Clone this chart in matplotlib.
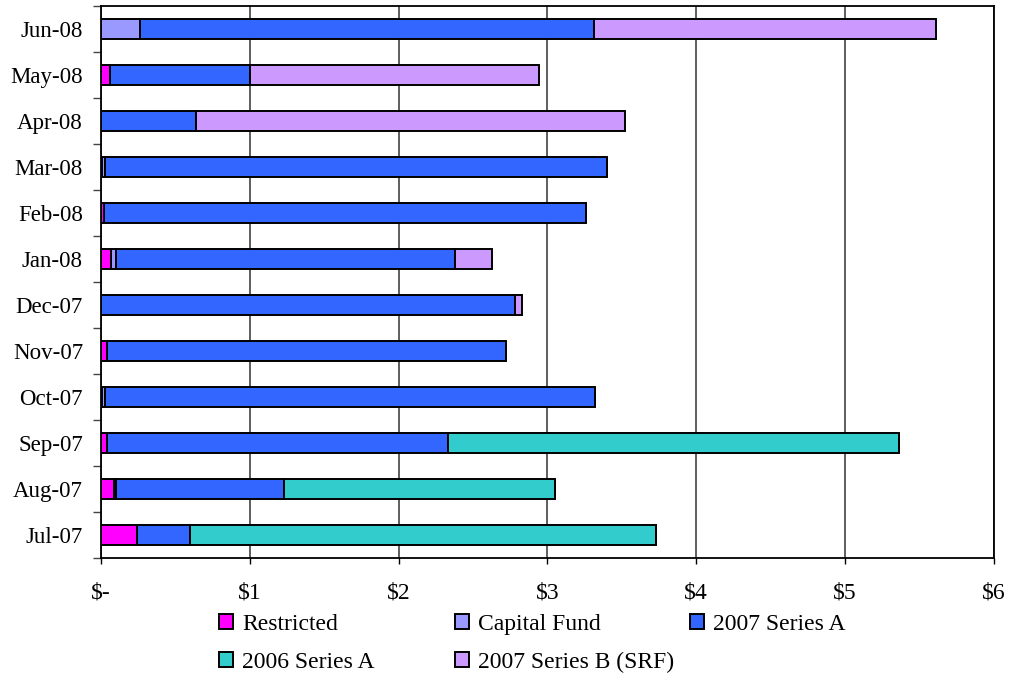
import numpy as np
import matplotlib
matplotlib.use("Agg")
import matplotlib.pyplot as plt

plt.rcParams["font.family"] = ["Liberation Serif", "DejaVu Serif"]
plt.rcParams["font.size"] = 16

# monthly cash balances by fund, $ millions (bottom row first)
months = ["Jul-07", "Aug-07", "Sep-07", "Oct-07", "Nov-07", "Dec-07",
          "Jan-08", "Feb-08", "Mar-08", "Apr-08", "May-08", "Jun-08"]
restricted = [0.24, 0.09, 0.04, 0.01, 0.04, 0.00, 0.07, 0.02, 0.01, 0.00, 0.06, 0.00]
capital_fund = [0.00, 0.01, 0.00, 0.02, 0.00, 0.00, 0.03, 0.00, 0.02, 0.00, 0.00, 0.26]
series_2007a = [0.36, 1.13, 2.29, 3.29, 2.68, 2.78, 2.28, 3.24, 3.37, 0.64, 0.94, 3.05]
series_2006a = [3.13, 1.82, 3.03, 0.00, 0.00, 0.00, 0.00, 0.00, 0.00, 0.00, 0.00, 0.00]
series_2007b = [0.00, 0.00, 0.00, 0.00, 0.00, 0.05, 0.25, 0.00, 0.00, 2.88, 1.94, 2.30]

series = [
    ("Restricted", restricted, "#FF00FF"),
    ("Capital Fund", capital_fund, "#9999FF"),
    ("2007 Series A", series_2007a, "#3366FF"),
    ("2006 Series A", series_2006a, "#33CCCC"),
    ("2007 Series B (SRF)", series_2007b, "#CC99FF"),
]
xticks = [0, 1, 2, 3, 4, 5, 6]
xlabels = ["$-", "$1", "$2", "$3", "$4", "$5", "$6"]

fig = plt.figure(figsize=(10.09, 6.75), dpi=100)
ax = fig.add_axes([0.1001, 0.1733, 0.8850, 0.8178])

y = np.arange(len(months))
left = np.zeros(len(months))
bars = {}
for name, vals, color in series:
    vals = np.array(vals)
    bars[name] = ax.barh(y, vals, left=left, height=0.44, color=color,
                         edgecolor="black", linewidth=1.4, zorder=3)
    left += vals

ax.set_xlim(0, 6)
ax.set_ylim(-0.5, len(months) - 0.5)
ax.set_xticks(xticks)
ax.set_xticklabels(xlabels, fontsize=17)
ax.set_yticks(y)
ax.set_yticklabels(months, fontsize=16.5)
ax.set_yticks(np.arange(len(months) + 1) - 0.5, minor=True)

ax.tick_params(axis="x", direction="out", length=4.5, width=1, pad=13)
ax.tick_params(axis="y", which="major", length=0, pad=13)
ax.tick_params(axis="y", which="minor", direction="out", length=6, width=1,
               color="#444444")
ax.xaxis.grid(True, color="#333333", linewidth=1.1, zorder=0)
for side in ax.spines.values():
    side.set_linewidth(1.3)

# legend laid out as a 3 + 2 grid below the axis
handles = {name: bars[name] for name, _, _ in series}
columns = [
    (["Restricted", "2006 Series A"], 219),
    (["Capital Fund", "2007 Series B (SRF)"], 455),
    (["2007 Series A"], 690),
]
for names, xpix in columns:
    fig.legend([handles[n] for n in names], names,
               loc="upper left", bbox_to_anchor=(xpix / 1009, 1 - 614 / 675),
               frameon=False, borderpad=0, borderaxespad=0,
               handlelength=0.58, handleheight=0.58, handletextpad=0.4,
               labelspacing=0.7, fontsize=17)

fig.savefig("out.png", dpi=100)
